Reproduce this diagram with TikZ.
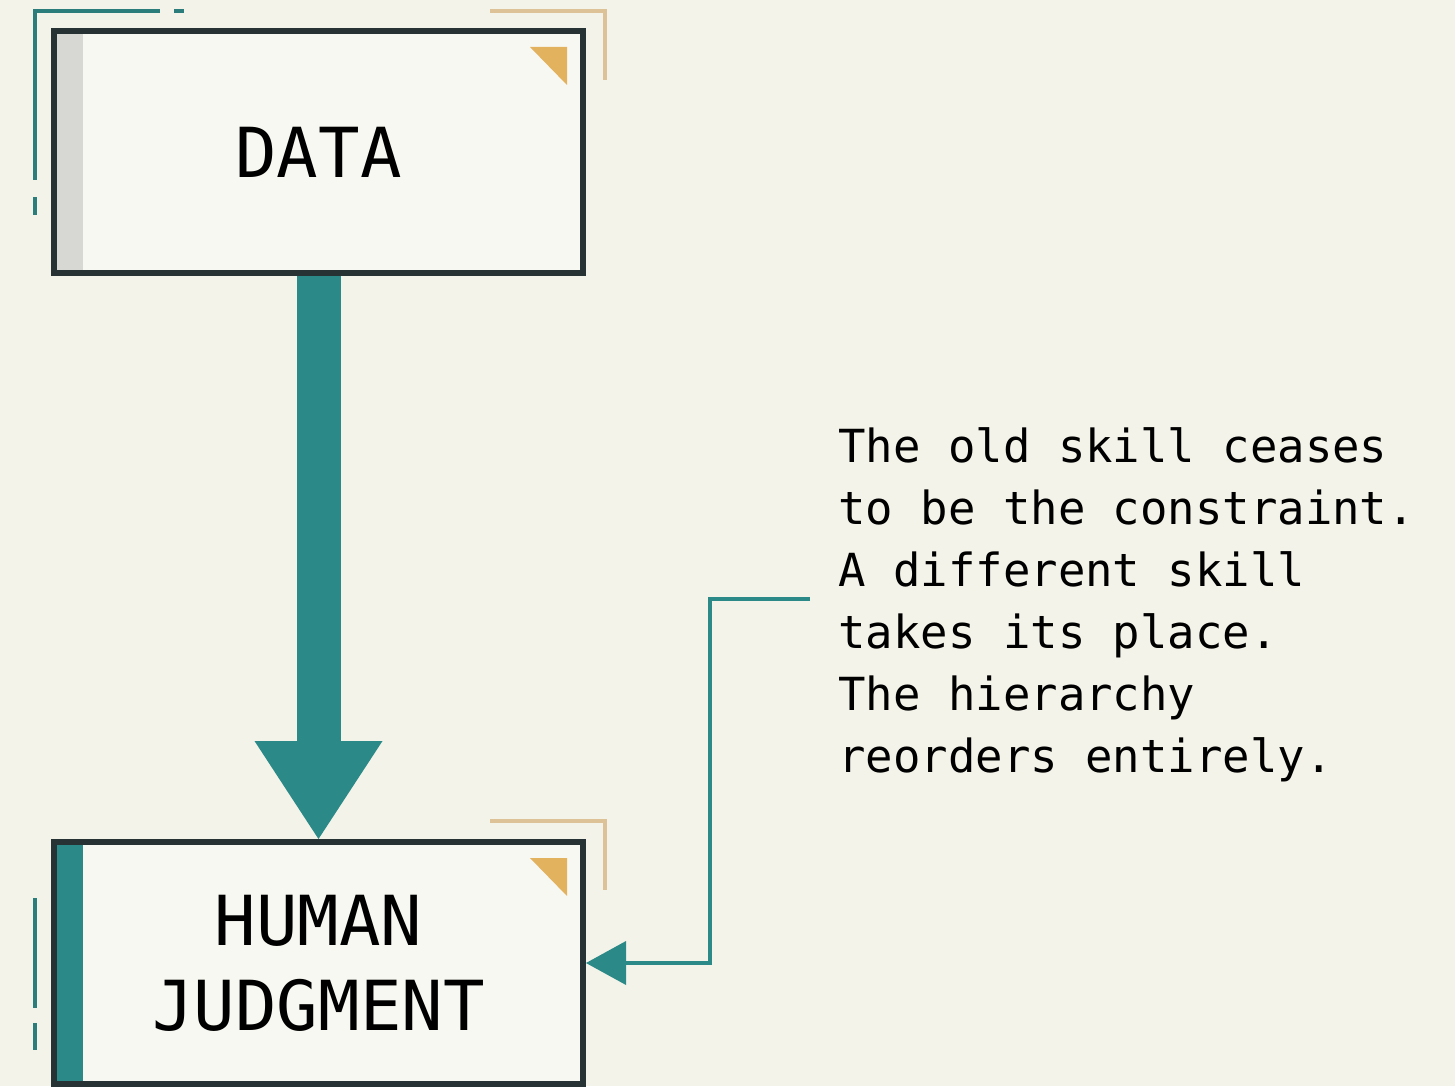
\documentclass[tikz,border=0pt]{standalone}
\usepackage{fontspec}
\usetikzlibrary{arrows.meta}
\newfontfamily\plexmono{DejaVu Sans Mono}
\definecolor{paper}{HTML}{F4F3EA}
\definecolor{card}{HTML}{F8F8F2}
\definecolor{ink}{HTML}{263234}
\definecolor{teal}{HTML}{2B8A87}
\definecolor{gold}{HTML}{E2B25E}
\definecolor{tan}{HTML}{DCC296}
\definecolor{stripegrey}{HTML}{D7D7D4}
\tikzset{
  stage/.style={draw=ink,line width=3pt,fill=card,minimum width=264.5pt,minimum height=121pt,
    align=center,font=\plexmono\fontsize{34.5}{42.5}\selectfont,
    path picture={
      \fill[#1] (path picture bounding box.north west) rectangle ([xshift=14.5pt]path picture bounding box.south west);
      \fill[gold] ([xshift=-26.5pt,yshift=-8pt]path picture bounding box.north east) -- ([xshift=-8pt,yshift=-8pt]path picture bounding box.north east) -- ([xshift=-8pt,yshift=-27pt]path picture bounding box.north east) -- cycle;
    }},
  note/.style={align=left,inner sep=0pt,font=\plexmono\fontsize{22.8}{31}\selectfont},
  flow/.style={teal,line width=22pt,-{Triangle[length=49pt,width=64pt,line width=0pt]}},
  pointer/.style={teal,line width=2pt,-{Triangle[length=20pt,width=22pt,line width=0pt]}},
  edgeteal/.style={teal!85!ink,line width=2.2pt},
  edgegold/.style={tan,line width=2pt},
}
\begin{document}
\begin{tikzpicture}[x=0.5pt,y=-0.5pt]
  \fill[paper] (0,0) rectangle (1455,1086);
  \useasboundingbox (0,0) rectangle (1455,1086);
  % corner brackets
  \draw[edgeteal] (160,11) -- (35,11) -- (35,180);
  \draw[edgeteal] (174,11) -- (184,11);
  \draw[edgeteal] (35,197) -- (35,215);
  \draw[edgeteal] (35,898) -- (35,1008);
  \draw[edgeteal] (35,1023) -- (35,1050);
  \foreach \y in {11,821}
  {
    \draw[edgegold] (490,\y) -- (605,\y) -- (605,\y+69);
  }
  \node[stage=stripegrey] (data) at (318.5,152) {DATA};
  \node[stage=teal] (judge) at (318.5,963) {HUMAN\\JUDGMENT};
  \draw[flow] (data) -- (judge);
  \node[note,anchor=base west] (text) at (838,772) {The old skill ceases\\to be the constraint.\\A different skill\\takes its place.\\The hierarchy\\reorders entirely.};
  \coordinate (tap) at (810,599);
  \draw[pointer] (tap) -- ++(-100,0) |- (judge.east);
\end{tikzpicture}
\end{document}
